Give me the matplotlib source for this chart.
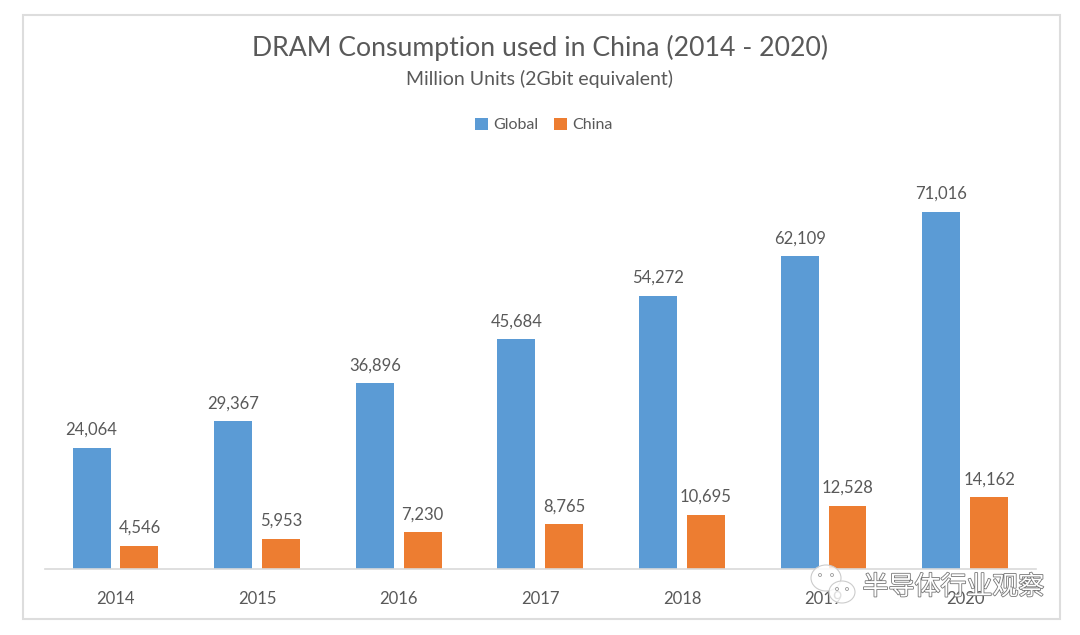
"""DRAM consumption bar chart, global vs China"""

import matplotlib
matplotlib.use('Agg')
import matplotlib.pyplot as plt
import matplotlib.patheffects as pe
from matplotlib.patches import Rectangle, Ellipse

W, H = 1080, 635

years = ['2014', '2015', '2016', '2017', '2018', '2019', '2020']
global_units = [24064, 29367, 36896, 45684, 54272, 62109, 71016]
china_units = [4546, 5953, 7230, 8765, 10695, 12528, 14162]

BLUE = '#5B9BD5'
ORANGE = '#ED7D31'
GREY = '#595959'

plt.rcParams['font.family'] = ['Lato', 'DejaVu Sans']


def px_box(x0, y0, x1, y1):
    # pixel box (y from the top) to figure fractions
    return [x0/W, 1 - y1/H, (x1-x0)/W, (y1-y0)/H]


fig = plt.figure(figsize=(W/100, H/100), dpi=100)
fig.add_artist(Rectangle((23/W, 1-619/H), 1037/W, 604/H, transform=fig.transFigure,
                         facecolor='white', edgecolor='#DDDDDD', linewidth=1.5, zorder=-1))

ax = fig.add_axes(px_box(44.7, 160, 1036, 568.5))
ax.patch.set_alpha(0)

width = 0.268
offset = 0.169
xs = list(range(len(years)))
b1 = ax.bar([x-offset for x in xs], global_units, width, color=BLUE, label='Global')
b2 = ax.bar([x+offset for x in xs], china_units, width, color=ORANGE, label='China')

for bars in (b1, b2):
    ax.bar_label(bars, labels=[f'{b.get_height():,.0f}' for b in bars], padding=7,
                 fontsize=12, color=GREY)

ax.set_xlim(-0.5, 6.5)
ax.set_ylim(0, 81300)
ax.set_yticks([])
ax.set_xticks(xs, years)
ax.tick_params(axis='x', length=0, pad=16, labelsize=12, labelcolor=GREY)
for side in ('top', 'left', 'right'):
    ax.spines[side].set_visible(False)
ax.spines['bottom'].set_color('#D9D9D9')
ax.spines['bottom'].set_linewidth(1.2)

fig.text(540/W, 1-48/H, 'DRAM Consumption used in China (2014 - 2020)', ha='center', va='center',
         fontsize=19.2, color=GREY)
fig.text(540/W, 1-79/H, 'Million Units (2Gbit equivalent)', ha='center', va='center',
         fontsize=14, color=GREY)

fig.legend(handles=[b1, b2], loc='center', bbox_to_anchor=(544/W, 1-125/H), ncols=2, frameon=False,
           fontsize=11.5, labelcolor=GREY, handlelength=0.8, handleheight=0.8, handletextpad=0.35,
           columnspacing=1.0)

# wechat watermark over the last tick labels
for cx, cy, w, h in [(826, 578, 30, 26), (842, 592, 26, 22)]:
    fig.add_artist(Ellipse((cx/W, 1-cy/H), w/W, h/H, transform=fig.transFigure, facecolor='#FFFFFFD0',
                           edgecolor='#CCCCCC', linewidth=0.8))
for cx, cy in [(820, 575), (832, 575), (837, 589), (847, 589)]:
    fig.add_artist(Ellipse((cx/W, 1-cy/H), 3/W, 3/H, transform=fig.transFigure, facecolor='white',
                           edgecolor='#999999', linewidth=0.6))
mark = fig.text(953.5/W, 1-587/H, '半导体行业观察', ha='center', va='center', fontsize=18.7,
                color='white', family=['Noto Sans CJK SC', 'DejaVu Sans'])
mark.set_path_effects([pe.withStroke(linewidth=1.2, foreground='#777777')])

fig.savefig('out.png', dpi=100)
